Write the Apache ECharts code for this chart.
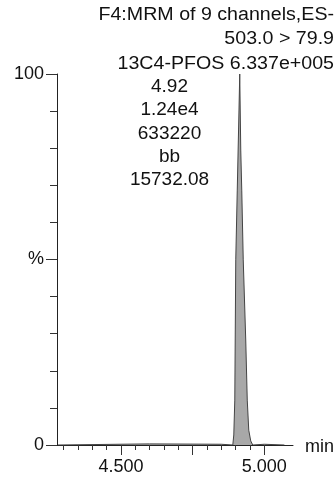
<!DOCTYPE html>
<html>
<head>
<meta charset="utf-8">
<script src="https://cdn.jsdelivr.net/npm/echarts@6/dist/echarts.min.js"></script>
<style>
html,body{margin:0;padding:0;background:#fff;}
#c{width:334px;height:481px;}
</style>
</head>
<body>
<div id="c"></div>
<script>
// Retention time (min) and relative intensity (%)
var times = [4.280, 4.600, 4.850, 4.890, 4.8935, 4.897, 4.8987, 4.9004, 4.9056, 4.9109, 4.9143, 4.9178, 4.9213, 4.9265, 4.9352, 4.9405, 4.9457, 4.9526, 4.9596, 5.000, 5.070];
var intensity = [0, 0.3, 0.2, 0, 2.7, 12.1, 31, 49.9, 68.7, 87.6, 100, 79.5, 68.7, 49.9, 28.3, 12.1, 4, 1.1, 0, 0.2, 0];

var xMinorTicks = [4.30, 4.35, 4.40, 4.45, 4.50, 4.55, 4.60, 4.65, 4.70, 4.75, 4.80, 4.85, 4.90, 4.95, 5.00];
var xMajorTicks = [4.50, 4.75, 5.00];
var xLabels = [4.50, 5.00];
var yLabelMap = {0: '0', 50: '%', 100: '100'};

var headerLines = ['F4:MRM of 9 channels,ES-', '503.0 > 79.9', '13C4-PFOS 6.337e+005'];
var peakInfo = ['4.92', '1.24e4', '633220', 'bb', '15732.08'];

var chart = echarts.init(document.getElementById('c'), null, {renderer: 'canvas'});
var FONT = '"Liberation Sans", Arial, sans-serif';
var data = times.map(function (t, i) { return [t, intensity[i]]; });

var graphics = [];
headerLines.forEach(function (s, i) {
  graphics.push({
    type: 'text', x: 334, y: 15 + i * 24.5, scaleX: 1.09,
    style: {text: s, x: 0, y: 0, textAlign: 'right', textVerticalAlign: 'middle',
      font: '18px ' + FONT, fill: '#111'}
  });
});
peakInfo.forEach(function (s, i) {
  graphics.push({
    type: 'text', x: 169.5, y: 87 + i * 23.2,
    style: {text: s, x: 0, y: 0, textAlign: 'center', textVerticalAlign: 'middle',
      font: '19px ' + FONT, fill: '#111'}
  });
});
graphics.push({
  type: 'text', x: 305, y: 447,
  style: {text: 'min', x: 0, y: 0, textAlign: 'left', textVerticalAlign: 'middle',
    font: '18px ' + FONT, fill: '#111'}
});

chart.setOption({
  animation: false,
  backgroundColor: '#fff',
  grid: {left: 57, right: 41, top: 74, bottom: 36, containLabel: false},
  xAxis: [{
    type: 'value', min: 4.277, max: 5.10,
    axisLine: {show: true, lineStyle: {color: '#222', width: 1}},
    axisTick: {show: true, length: 5, customValues: xMinorTicks, lineStyle: {color: '#333'}},
    axisLabel: {show: false},
    splitLine: {show: false}
  }, {
    type: 'value', min: 4.277, max: 5.10, position: 'bottom',
    axisLine: {show: false},
    axisTick: {show: true, length: 10, customValues: xMajorTicks, lineStyle: {color: '#333'}},
    axisLabel: {show: true, customValues: xLabels, margin: 13, color: '#111',
      fontSize: 18, fontFamily: FONT,
      formatter: function (v) { return v.toFixed(3); }},
    splitLine: {show: false}
  }],
  yAxis: [{
    type: 'value', min: 0, max: 100, interval: 10,
    axisLine: {show: true, lineStyle: {color: '#222', width: 1}},
    axisTick: {show: true, length: 7, lineStyle: {color: '#333'}},
    axisLabel: {show: false},
    splitLine: {show: false}
  }, {
    type: 'value', min: 0, max: 100, interval: 50, position: 'left',
    axisLine: {show: false},
    axisTick: {show: true, length: 11, lineStyle: {color: '#333'}},
    axisLabel: {show: true, margin: 13, color: '#111', fontSize: 18, fontFamily: FONT,
      formatter: function (v) { return yLabelMap[v] !== undefined ? yLabelMap[v] : ''; }},
    splitLine: {show: false}
  }],
  series: [{
    type: 'line', xAxisIndex: 0, yAxisIndex: 0,
    data: data, showSymbol: false, smooth: false,
    lineStyle: {color: '#444', width: 1},
    areaStyle: {color: '#a8a8a8', opacity: 1},
    z: 3
  }],
  graphic: graphics
});
</script>
</body>
</html>
